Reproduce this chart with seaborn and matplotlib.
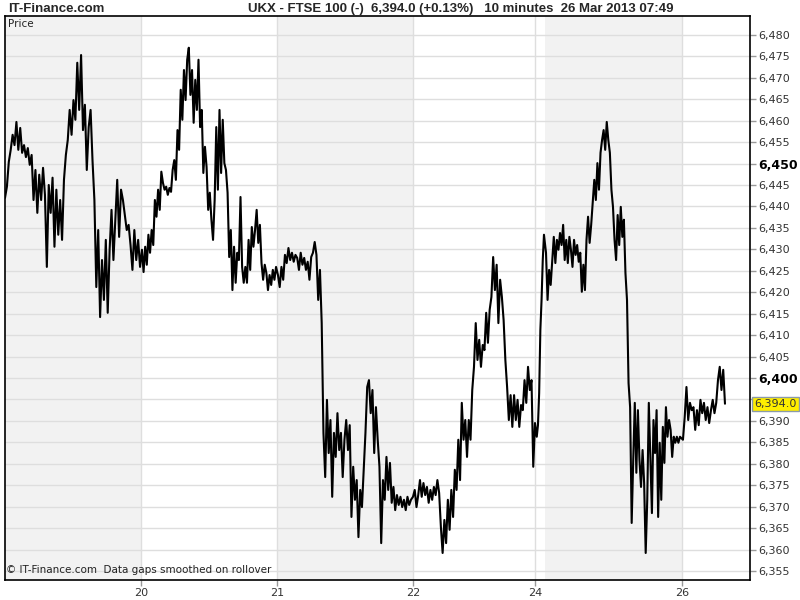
import numpy as np
import pandas as pd
import matplotlib
matplotlib.use("Agg")
import matplotlib.pyplot as plt
import matplotlib.transforms as mtransforms
import seaborn as sns

# FTSE 100, 10 minute bars, prices (high/low zigzag per session)
day19 = [6442.0, 6444.6, 6450.4, 6453.2, 6456.7, 6454.3, 6459.7, 6453.2, 6458.3, 6452.5,
         6454.3, 6451.5, 6453.6, 6449.7, 6452.0, 6441.5, 6448.5, 6438.5, 6447.4, 6441.5,
         6449.0, 6442.7, 6425.9, 6445.0, 6438.5, 6446.7, 6430.6, 6443.9, 6433.4, 6441.5,
         6432.2, 6446.2, 6452.0, 6455.5, 6462.5, 6456.7, 6464.8, 6460.2, 6473.5, 6462.5,
         6475.3, 6457.8, 6463.7, 6448.5, 6458.5, 6462.5, 6450.8, 6441.5, 6421.2, 6434.5,
         6414.2, 6427.5, 6418.2, 6432.2, 6415.2, 6429.9, 6439.2, 6427.5, 6436.9, 6446.2,
         6432.9, 6443.9, 6441.5, 6438.0, 6434.5, 6435.7, 6431.0, 6425.2, 6434.5, 6427.5,
         6432.2, 6425.9]
day20 = [6429.9, 6424.7, 6430.6, 6426.4, 6433.4, 6429.2, 6434.5, 6431.0, 6441.5, 6437.6,
         6443.9, 6439.2, 6448.1, 6445.5, 6443.9, 6444.6, 6442.7, 6444.3, 6443.4, 6448.5,
         6450.8, 6446.2, 6457.8, 6453.2, 6467.2, 6460.2, 6471.8, 6464.8, 6474.2, 6477.0,
         6466.0, 6471.8, 6459.5, 6469.5, 6462.5, 6474.2, 6458.5, 6462.5, 6447.8, 6453.9,
         6449.2, 6439.2, 6443.2, 6436.9, 6432.2, 6441.5, 6458.5, 6443.9, 6462.5, 6447.8,
         6460.2, 6450.1, 6448.5, 6443.2, 6428.2, 6434.5, 6420.5, 6430.6, 6422.2, 6429.2,
         6427.5, 6442.2, 6425.9, 6422.2, 6425.9, 6422.2, 6432.2, 6425.2, 6435.2, 6430.6,
         6434.5, 6439.2, 6431.5, 6435.7, 6426.8, 6422.9, 6426.4, 6424.5, 6420.5, 6424.0,
         6421.7, 6425.2, 6422.9, 6425.9]
day21 = [6424.0, 6421.2, 6425.9, 6422.9, 6428.7, 6426.8, 6430.3, 6427.5, 6429.2, 6427.1,
         6428.7, 6428.0, 6425.2, 6429.2, 6426.4, 6428.0, 6425.2, 6427.1, 6422.9, 6428.2,
         6429.2, 6431.7, 6428.7, 6418.2, 6425.2, 6412.8, 6387.2, 6376.9, 6394.9, 6382.5,
         6390.2, 6372.3, 6387.2, 6381.6, 6391.8, 6383.2, 6387.2, 6376.9, 6385.6, 6390.2,
         6383.2, 6389.0, 6367.6, 6379.3, 6371.6, 6376.2, 6362.9, 6373.9, 6369.9, 6378.6,
         6387.2, 6397.9, 6399.5, 6391.8, 6397.2, 6382.5, 6393.2, 6385.6, 6379.3, 6361.5,
         6376.2, 6371.6, 6381.6, 6373.9, 6380.2, 6370.9, 6374.6, 6369.2, 6372.7, 6370.4,
         6372.3, 6369.9, 6371.6, 6369.2, 6372.3, 6370.4, 6371.6]
day22 = [6372.3, 6373.9, 6369.9, 6372.7, 6376.2, 6372.3, 6375.5, 6372.7, 6374.6, 6370.9,
         6373.9, 6371.6, 6374.6, 6372.7, 6376.2, 6373.2, 6365.3, 6359.2, 6366.9, 6361.5,
         6371.6, 6364.6, 6373.9, 6367.6, 6378.6, 6373.9, 6385.6, 6376.2, 6394.2, 6385.6,
         6390.2, 6381.6, 6390.2, 6385.6, 6397.2, 6402.6, 6412.8, 6404.2, 6408.9, 6402.6,
         6407.7, 6406.5, 6415.2, 6408.2, 6415.9, 6418.9, 6428.2, 6420.5, 6426.4, 6412.8,
         6422.9, 6418.9, 6413.5, 6404.2, 6397.9, 6390.2, 6396.0, 6388.6, 6396.0, 6390.2,
         6394.9, 6388.6, 6393.7, 6392.5, 6399.5, 6394.2, 6402.6, 6397.2, 6399.5, 6379.3,
         6389.5]
day24 = [6386.3, 6389.0, 6396.5, 6411.2, 6418.2, 6427.5, 6433.4]
day25 = [6429.2, 6418.2, 6425.2, 6421.7, 6427.5, 6432.9, 6426.8, 6432.2, 6429.9, 6433.8,
         6431.0, 6435.7, 6427.5, 6432.2, 6426.8, 6432.9, 6429.9, 6425.9, 6432.2, 6428.7,
         6431.0, 6427.1, 6429.2, 6420.1, 6426.4, 6420.5, 6432.2, 6437.6, 6431.5, 6435.7,
         6440.8, 6446.2, 6441.5, 6450.1, 6443.9, 6452.5, 6455.5, 6457.8, 6453.2, 6459.7,
         6455.5, 6452.5, 6443.9, 6439.9, 6432.2, 6427.5, 6438.0, 6431.0, 6439.9, 6432.9,
         6436.9, 6424.5, 6418.2, 6398.8, 6393.2, 6366.2, 6380.9, 6394.2, 6377.9, 6392.5,
         6380.9, 6374.6, 6383.2, 6375.5, 6359.2, 6371.6, 6394.2, 6380.9, 6368.5, 6390.2,
         6382.5, 6392.5, 6367.6, 6384.9, 6371.6, 6388.6, 6380.2, 6393.2, 6386.3, 6390.2,
         6387.9, 6381.6, 6386.3, 6384.9, 6386.3, 6384.9, 6386.3]
day26 = [6385.6, 6390.9, 6397.9, 6390.2, 6394.2, 6392.5, 6393.2, 6387.9, 6392.5, 6389.0,
         6394.9, 6391.8, 6394.2, 6390.2, 6393.2, 6389.5, 6392.5, 6394.9, 6391.8, 6394.2,
         6399.5, 6402.6, 6397.2, 6401.9, 6394.0]

last_price = 6394.0
title = "UKX - FTSE 100 (-)  6,394.0 (+0.13%)   10 minutes  26 Mar 2013 07:49"

# session spans on the time axis (1 unit = one full trading day)
sessions = [(0.0, 0.993, day19), (1.007, 1.993, day20), (2.007, 2.985, day21),
            (3.0, 3.897, day22), (3.91, 3.963, day24), (3.978, 4.963, day25),
            (4.985, 5.294, day26)]
tick_pos = [1.0, 2.0, 3.0, 3.897, 4.978]
tick_lab = ["20", "21", "22", "24", "26"]
shade = [(0.0, 1.0), (2.0, 3.0), (3.97, 4.978)]

frames = []
for start, end, prices in sessions:
    frames.append(pd.DataFrame({"t": np.linspace(start, end, len(prices)), "price": prices}))
df = pd.concat(frames, ignore_index=True)

sns.set_style("white")
plt.rcParams['font.family'] = ['DejaVu Sans']

fig = plt.figure(figsize=(8, 6), dpi=100)
ax = fig.add_axes([5 / 800, 20 / 600, 745 / 800, 564 / 600])

for a, b in shade:
    ax.axvspan(a, b, color="#f2f2f2", zorder=0, lw=0)

sns.lineplot(data=df, x="t", y="price", ax=ax, color="black", lw=1.5,
             estimator=None, sort=False, zorder=3)

ax.set_xlim(0, 5.478)
ax.set_ylim(6352.9, 6484.4)
yvals = list(range(6355, 6481, 5))
ax.set_yticks(yvals)
ax.set_xticks(tick_pos)
ax.set_xticklabels(tick_lab)
ax.grid(True, color="#dedede", lw=1, zorder=1)
ax.set_axisbelow(True)
ax.yaxis.tick_right()
ax.set_xlabel("")
ax.set_ylabel("")

# the label next to the last price box is left out, as on the original
ylabels = []
for v in yvals:
    if abs(v - last_price) < 2.5:
        ylabels.append("")
    else:
        ylabels.append("{:,}".format(v))
ax.set_yticklabels(ylabels)
for lab, v in zip(ax.get_yticklabels(), yvals):
    if v % 50 == 0:
        lab.set_fontweight("bold")
        lab.set_fontsize(9)
        lab.set_color("black")
    else:
        lab.set_fontsize(8)
        lab.set_color("#333333")
for lab in ax.get_xticklabels():
    lab.set_fontsize(8)
    lab.set_color("#333333")

ax.tick_params(axis="both", direction="out", length=4, width=1, color="#999999",
               pad=2, right=True, bottom=True, left=False)

for s in ax.spines.values():
    s.set_color("black")
    s.set_linewidth(1.2)

# last price marker
trans = mtransforms.blended_transform_factory(ax.transAxes, ax.transData)
ax.text(1.006, last_price, "{:,.1f}".format(last_price), transform=trans,
        va="center", ha="left", fontsize=8, color="#333333",
        bbox=dict(boxstyle="square,pad=0.18", fc="#ffee00", ec="#8a9aaa", lw=1))

ax.text(0.004, 0.985, "Price", transform=ax.transAxes, fontsize=7.5,
        va="center", ha="left", color="#222222")
ax.text(0.002, 0.009, "\u00a9 IT-Finance.com  Data gaps smoothed on rollover",
        transform=ax.transAxes, fontsize=7.5, va="bottom", ha="left", color="#222222")

fig.text(8 / 800, 1 - 9 / 600, "IT-Finance.com", fontsize=9.5, fontweight="bold",
         family="Liberation Sans", va="center", ha="left")
fig.text(248 / 800, 1 - 9 / 600, title, fontsize=9.5, fontweight="bold",
         family="Liberation Sans", va="center", ha="left")

fig.savefig("out.png", dpi=100)
